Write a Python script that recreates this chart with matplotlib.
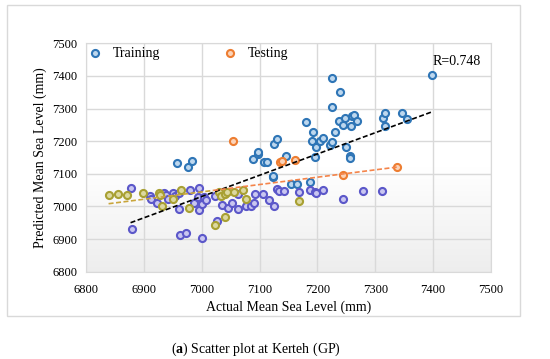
import matplotlib.pyplot as plt
import numpy as np

# --- data ---
train_x = [6957, 6977, 6983, 7089, 7097, 7097, 7108, 7112, 7123, 7125, 7130, 7146,
           7180, 7190, 7193, 7195, 7197, 7204, 7210, 7222, 7226, 7226, 7226, 7230,
           7238, 7239, 7244, 7248, 7250, 7256, 7257, 7258, 7260, 7264, 7268, 7314,
           7317, 7317, 7346, 7355, 7398,
           6877, 6879, 6910, 6913, 6922, 6934, 6939, 6941, 6951, 6953, 6960, 6961,
           6963, 6972, 6979, 6987, 6994, 6996, 6995, 7000, 7001, 7004, 7008, 7023,
           7035, 7046, 7052, 7063, 7077, 7085, 7091, 7092, 7106, 7117, 7123, 7125,
           7130, 7134, 7142, 7155, 7164, 7169, 7188, 7188, 7196, 7198, 7209, 7245,
           7278, 7311, 7062, 7026]
train_y = [7132, 7120, 7140, 7145, 7160, 7166, 7137, 7137, 7091, 7190, 7207, 7154,
           7260, 7202, 7227, 7150, 7183, 7202, 7210, 7187, 7196, 7393, 7304, 7228,
           7263, 7350, 7251, 7272, 7183, 7155, 7149, 7245, 7276, 7281, 7262, 7271,
           7287, 7248, 7287, 7267, 7403,
           7058, 6932, 7031, 7024, 7010, 7041, 7036, 7022, 7041, 7031, 7041, 6993,
           6912, 6920, 7049, 7010, 7029, 7056, 6990, 7007, 6903, 7029, 7020, 7033,
           7003, 6995, 7009, 6991, 7000, 7000, 7009, 7037, 7038, 7020, 7092, 7002,
           7054, 7048, 7046, 7070, 7070, 7045, 7075, 7051, 7044, 7042, 7049, 7023,
           7047, 7047, 7037, 6954]

test_x = [7054, 7136, 7138, 7161, 7245, 7337,
          6839, 6856, 6871, 6898, 6927, 6928, 6932, 6951, 6964, 6978, 7023, 7041,
          7029, 7034, 7041, 7043, 7055, 7071, 7076, 7169]
test_y = [7202, 7136, 7140, 7143, 7097, 7120,
          7034, 7038, 7036, 7041, 7041, 7036, 7002, 7022, 7049, 6995, 6944, 6969,
          7043, 7033, 7039, 7043, 7043, 7051, 7024, 7018]

r_value = 0.748
ticks = [6800, 6900, 7000, 7100, 7200, 7300, 7400, 7500]

train_x, train_y = np.array(train_x), np.array(train_y)
test_x, test_y = np.array(test_x), np.array(test_y)

plt.rcParams['font.family'] = ['Liberation Serif', 'DejaVu Serif']
plt.rcParams['mathtext.fontset'] = 'custom'
plt.rcParams['mathtext.rm'] = 'Liberation Serif'
plt.rcParams['mathtext.bf'] = 'Liberation Serif:bold'

fig = plt.figure(figsize=(5.5, 3.59), dpi=100)
ax = fig.add_axes([0.1564, 0.2432, 0.7363, 0.6362])

# outer chart frame
fig.patches.append(plt.Rectangle((0.013, 0.12), 0.933, 0.866, transform=fig.transFigure,
                                 fill=False, edgecolor='#d9d9d9', lw=1.0))

# soft grey shading in lower part of the plot area
t = np.linspace(0, 1, 256).reshape(-1, 1)
shade = np.ones((256, 1, 4))
shade[..., 0] = shade[..., 1] = shade[..., 2] = 1 - 0.07 * t
ax.imshow(shade, extent=[6800, 7500, 6800, 7120], aspect='auto', origin='upper', zorder=0)

# the lower band of the original picture tints the markers
low_tr = train_y < 7060
low_te = test_y < 7060

ax.scatter(train_x[~low_tr], train_y[~low_tr], s=26, facecolor='#bdd7ee',
           edgecolor='#2e75b6', linewidth=1.5, zorder=3, label='Training')
ax.scatter(train_x[low_tr], train_y[low_tr], s=26, facecolor='#c9c6f0',
           edgecolor='#5b57c9', linewidth=1.5, zorder=3)
ax.scatter(test_x[~low_te], test_y[~low_te], s=26, facecolor='#fbd3b8',
           edgecolor='#ed7d31', linewidth=1.5, zorder=3, label='Testing')
ax.scatter(test_x[low_te], test_y[low_te], s=26, facecolor='#dcd9a0',
           edgecolor='#a8a032', linewidth=1.5, zorder=3)

# linear trend lines
k1, b1 = np.polyfit(train_x, train_y, 1)
xx = np.array([train_x.min(), train_x.max()])
ax.plot(xx, k1 * xx + b1, ls=(0, (3, 1.5)), color='black', lw=1.2, zorder=4)

k2, b2 = np.polyfit(test_x, test_y, 1)
xl = np.array([test_x.min(), 7020])
xr = np.array([7020, test_x.max()])
ax.plot(xl, k2 * xl + b2, ls=(0, (3, 1.5)), color='#c9a53a', lw=1.2, zorder=4)
ax.plot(xr, k2 * xr + b2, ls=(0, (3, 1.5)), color='#f4844a', lw=1.2, zorder=4)

ax.set_xlim(6800, 7500)
ax.set_ylim(6800, 7500)
ax.set_xticks(ticks)
ax.set_yticks(ticks)
ax.grid(True, color='#d9d9d9', lw=1.0)
ax.set_axisbelow(True)
for s in ax.spines.values():
    s.set_color('#d9d9d9')
ax.tick_params(length=0, labelsize=9, pad=6)
ax.tick_params(axis='x', pad=9)

ax.set_xlabel('Actual Mean Sea Level (mm)', fontsize=10, labelpad=3)
ax.set_ylabel('Predicted Mean Sea Level (mm)', fontsize=10, labelpad=4)

ax.legend(loc='upper left', ncol=2, frameon=False, fontsize=10, columnspacing=4.6,
          handletextpad=0.9, borderaxespad=0.0, borderpad=0.25, handlelength=0.8)
ax.text(0.975, 0.92, 'R=' + str(r_value), transform=ax.transAxes, ha='right', va='center',
        fontsize=10)

fig.text(0.466, 0.028, r'($\mathbf{a}$) Scatter plot at Kerteh (GP)', ha='center',
         va='center', fontsize=10)

fig.savefig('out.png', dpi=100)
